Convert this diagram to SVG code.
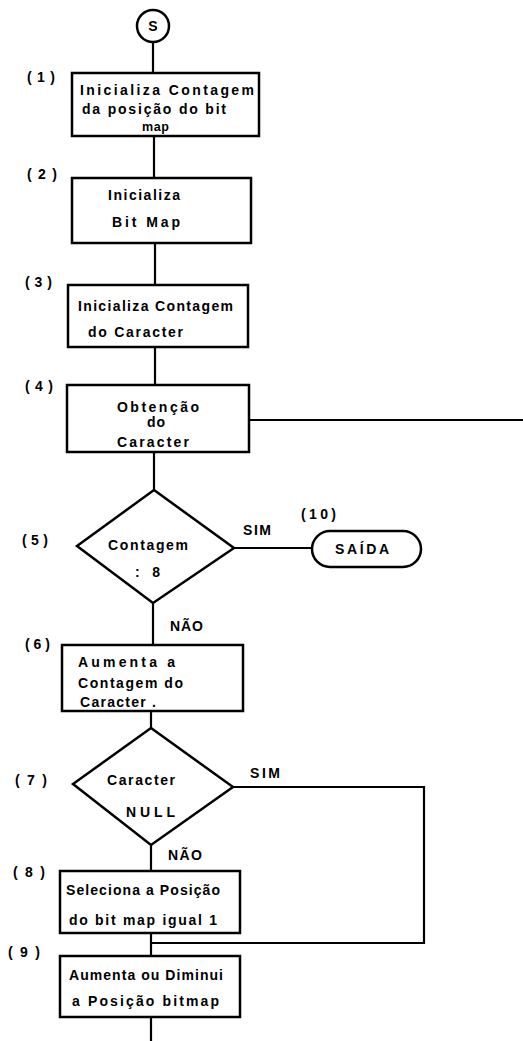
<svg xmlns="http://www.w3.org/2000/svg" width="523" height="1041" viewBox="0 0 523 1041">
<style>
.shape{fill:#fff;stroke:#000;stroke-width:2.5}
.conn{fill:none;stroke:#000;stroke-width:2.2}
text{font-family:"Liberation Sans","DejaVu Sans",sans-serif;font-weight:bold;font-size:14px;fill:#000}
.lbl{font-size:14px}
.sm{font-size:12.5px}
</style>
<rect width="523" height="1041" fill="#fff"/>
<g id="connectors">
<path class="conn" d="M153 42V73"/>
<path class="conn" d="M154 136V178"/>
<path class="conn" d="M155 243V285"/>
<path class="conn" d="M155 347V385"/>
<path class="conn" d="M154 452V490"/>
<path class="conn" d="M249 420H523"/>
<path class="conn" d="M234 548H312"/>
<path class="conn" d="M153 603V645"/>
<path class="conn" d="M151 711V728"/>
<path class="conn" d="M233 787H424V943H151"/>
<path class="conn" d="M151 845V871"/>
<path class="conn" d="M151 933V956"/>
<path class="conn" d="M151 1017V1041"/>
</g>
<g id="start">
<circle class="shape" cx="153" cy="26" r="16"/>
<text x="153" y="31" text-anchor="middle">S</text>
</g>
<g id="n1">
<rect class="shape" x="72" y="73" width="187" height="63"/>
<text class="lbl" x="27" y="82" textLength="28" lengthAdjust="spacing">(1)</text>
<text x="80" y="95" textLength="174" lengthAdjust="spacing">Inicializa Contagem</text>
<text x="82" y="114" textLength="144" lengthAdjust="spacing">da posição do bit</text>
<text class="sm" x="142" y="131" textLength="27" lengthAdjust="spacing">map</text>
</g>
<g id="n2">
<rect class="shape" x="72" y="178" width="179" height="65"/>
<text class="lbl" x="27" y="179" textLength="30" lengthAdjust="spacing">(2)</text>
<text x="108" y="200" textLength="72" lengthAdjust="spacing">Inicializa</text>
<text x="112" y="227" textLength="68" lengthAdjust="spacing">Bit Map</text>
</g>
<g id="n3">
<rect class="shape" x="68" y="285" width="180" height="62"/>
<text class="lbl" x="25" y="287" textLength="27" lengthAdjust="spacing">(3)</text>
<text x="78" y="311" textLength="155" lengthAdjust="spacing">Inicializa Contagem</text>
<text x="88" y="337" textLength="95" lengthAdjust="spacing">do Caracter</text>
</g>
<g id="n4">
<rect class="shape" x="67" y="385" width="182" height="67"/>
<text class="lbl" x="25" y="391" textLength="28" lengthAdjust="spacing">(4)</text>
<text x="117" y="412" textLength="82" lengthAdjust="spacing">Obtenção</text>
<text x="147" y="427" textLength="18" lengthAdjust="spacing">do</text>
<text x="117" y="447" textLength="72" lengthAdjust="spacing">Caracter</text>
</g>
<g id="n5">
<polygon class="shape" points="154,490 234,548 153,603 77,546"/>
<text class="lbl" x="22" y="545" textLength="26" lengthAdjust="spacing">(5)</text>
<text x="108" y="550" textLength="80" lengthAdjust="spacing">Contagem</text>
<text x="135" y="577" textLength="25" lengthAdjust="spacing">: 8</text>
<text x="243" y="535" textLength="28" lengthAdjust="spacing">SIM</text>
<text x="170" y="631" textLength="33" lengthAdjust="spacing">NÃO</text>
</g>
<g id="n10">
<rect class="shape" x="312" y="531" width="109" height="36" rx="18" ry="18"/>
<text class="lbl" x="301" y="519" textLength="35" lengthAdjust="spacing">(10)</text>
<text x="335" y="554" textLength="54" lengthAdjust="spacing">SAÍDA</text>
</g>
<g id="n6">
<rect class="shape" x="62" y="645" width="181" height="66"/>
<text class="lbl" x="25" y="649" textLength="25" lengthAdjust="spacing">(6)</text>
<text x="78" y="667" textLength="97" lengthAdjust="spacing">Aumenta  a</text>
<text x="78" y="688" textLength="105" lengthAdjust="spacing">Contagem do</text>
<text x="80" y="707" textLength="76" lengthAdjust="spacing">Caracter .</text>
</g>
<g id="n7">
<polygon class="shape" points="151,728 233,787 151,845 73,784"/>
<text class="lbl" x="15" y="785" textLength="32" lengthAdjust="spacing">(7)</text>
<text x="107" y="785" textLength="68" lengthAdjust="spacing">Caracter</text>
<text x="126" y="817" textLength="49" lengthAdjust="spacing">NULL</text>
<text x="250" y="778" textLength="30" lengthAdjust="spacing">SIM</text>
<text x="168" y="860" textLength="34" lengthAdjust="spacing">NÃO</text>
</g>
<g id="n8">
<rect class="shape" x="60" y="871" width="180" height="62"/>
<text class="lbl" x="13" y="877" textLength="32" lengthAdjust="spacing">(8)</text>
<text x="66" y="895" textLength="154" lengthAdjust="spacing">Seleciona a Posição</text>
<text x="69" y="925" textLength="148" lengthAdjust="spacing">do bit map igual 1</text>
</g>
<g id="n9">
<rect class="shape" x="60" y="956" width="180" height="61"/>
<text class="lbl" x="8" y="957" textLength="32" lengthAdjust="spacing">(9)</text>
<text x="69" y="980" textLength="154" lengthAdjust="spacing">Aumenta ou Diminui</text>
<text x="72" y="1006" textLength="147" lengthAdjust="spacing">a Posição bitmap</text>
</g>
</svg>
